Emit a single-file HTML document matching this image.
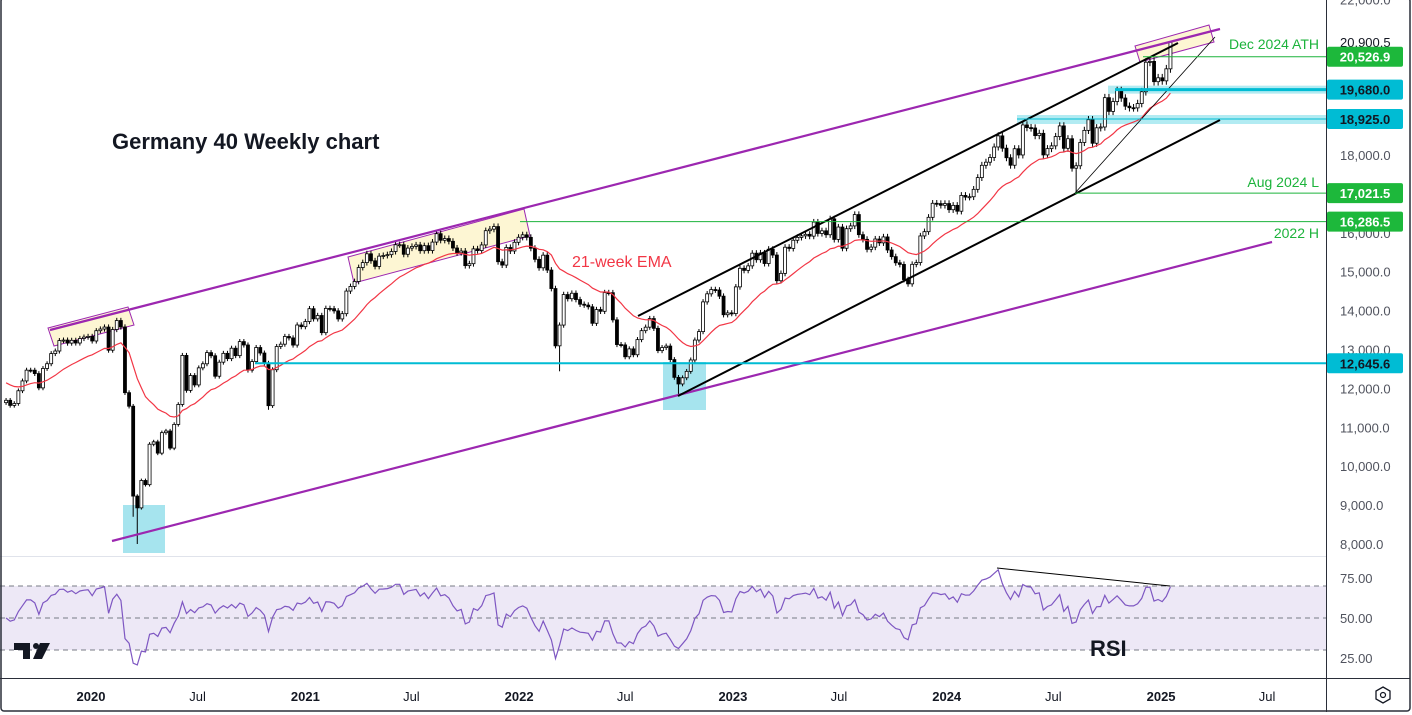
<!DOCTYPE html>
<html><head><meta charset="utf-8"><style>
html,body{margin:0;padding:0;background:#fff;}
svg{display:block;font-family:"Liberation Sans",sans-serif;}
</style></head><body>
<svg id="c" width="1412" height="715" viewBox="0 0 1412 715">
<defs><clipPath id="mainClip"><rect x="0" y="0" width="1326" height="556"/></clipPath>
<clipPath id="rsiClip"><rect x="0" y="557" width="1326" height="121"/></clipPath></defs>
<rect x="0" y="0" width="1412" height="715" fill="#fff"/>
<g id="overBack" clip-path="url(#mainClip)"></g>
<g id="candles" clip-path="url(#mainClip)"></g>
<g id="overFront" clip-path="url(#mainClip)"></g>
<g id="rsi" clip-path="url(#rsiClip)"></g>
<g id="axes"></g>
</svg>
<script>
const closes=[11694,11563,11612,11939,12192,12469,12468,12381,12013,12512,12634,12895,12961,13229,13242,13164,13236,13167,13283,13319,13337,
13219,13483,13526,13577,12982,13514,13745,13579,11890,11542,9232,8929,9633,9525,10565,10626,10336,10862,10905,10465,11074,11587,12848,11949,12331,12089,12528,12633,12920,12839,12313,12674,12901,12765,13033,12842,13203,13116,12469,12689,13051,12909,12646,11556,12480,13077,13137,13335,13298,13114,13630,13587,13719,
14049,13788,13874,13433,14057,14050,13993,13786,13921,14502,14621,14749,15107,15234,15460,15280,15136,15400,15417,15438,15520,15693,15693,15448,15607,15650,15688,15540,15669,15544,15761,15977,15808,15852,15781,15609,15490,15531,15156,15206,15587,15543,15688,16054,16094,16160,15257,15170,15623,15532,15756,15885,
15948,15883,15603,15318,15100,15425,15042,14567,13094,13628,14413,14306,14446,14284,14164,14142,14098,13674,14027,13982,14462,14460,13762,13127,13118,12813,13016,12865,13254,13484,13574,13795,13544,12971,13050,13088,12741,12284,12114,12273,12438,12731,13243,13460,14224,14431,14541,14529,14371,13894,13941,13924,
14610,15087,15034,15150,15476,15308,15482,15210,15578,15428,14768,14957,15629,15598,15808,15882,15922,15961,15914,16275,15983,16051,15950,16358,15830,16148,15603,16105,16177,16469,15952,15832,15575,15632,15840,15741,15894,15558,15387,15229,15187,14798,14688,15189,15234,15919,16029,16398,16759,16751,16707,16752,
16594,16705,16555,16961,16918,16927,17117,17419,17735,17815,17936,18206,18492,18175,17930,17737,18161,18001,18773,18704,18694,18498,18557,18002,18164,18235,18475,18748,18172,18418,17661,17723,18322,18633,18907,18302,18699,18720,19474,19121,19374,19657,19464,19255,19215,19211,19323,19626,20385,20406,19885,19985,
19906,20215,20900.5];
const lowIdx=[31,32,64,135,164,261];
const lowVals=[8700,8000,11450,12440,11830,17021.5];
const highIdx=[279,284];
const highVals=[20526.9,20900.5];
const rsiLevels=[70,50,30];
const priceTicks=[8000,9000,10000,11000,12000,13000,14000,15000,16000,18000,22000];
const timeTicks=[["2020-01-01","2020",1],["2020-07-01","Jul",0],["2021-01-01","2021",1],["2021-07-01","Jul",0],["2022-01-01","2022",1],["2022-07-01","Jul",0],["2023-01-01","2023",1],["2023-07-01","Jul",0],["2024-01-01","2024",1],["2024-07-01","Jul",0],["2025-01-01","2025",1],["2025-07-01","Jul",0]];
const startDate=Date.UTC(2019,7,9);

const NS="http://www.w3.org/2000/svg";
const DAY=86400000, X0=Date.UTC(2020,0,1);
function xd(t){return 91+(t-X0)/DAY*0.5857;}
function xi(i){return xd(startDate+i*7*DAY);}
function y(p){return 544-(p-8000)*0.0389;}
function ry(v){return 618-(v-50)*1.6;}
function mk(tag,at,parent){const e=document.createElementNS(NS,tag);for(const k in at)e.setAttribute(k,at[k]);parent.appendChild(e);return e;}
const G=id=>document.getElementById(id);

// overlays behind
const ob=G('overBack');
let e;
e=mk('polygon',{points:"48,328 128,307 134,325 54,346",fill:"#fdf6d3",stroke:"#9c27b0","stroke-width":1},ob);


e=mk('polygon',{points:"348,257 524,209 530,236 354,283",fill:"#fdf6d3",stroke:"#9c27b0","stroke-width":1},ob);


e=mk('polygon',{points:"1135,46 1209,25 1214,42 1140,62",fill:"#fdf6d3",stroke:"#9c27b0","stroke-width":1},ob);


e=mk('rect',{x:123,y:505,width:42,height:48,fill:"#a6e4ee"},ob);


e=mk('rect',{x:663,y:362,width:43,height:48,fill:"#a6e4ee"},ob);


e=mk('rect',{x:1108,y:y(19680)-4,width:218,height:8,fill:"#b2ebf2"},ob);


e=mk('rect',{x:1017,y:y(18925)-4,width:309,height:9,fill:"#b2ebf2"},ob);



// candles
const cg=G('candles');
closes.forEach((c,i)=>{
  const o=i?closes[i-1]:c-60;
  const top=Math.max(o,c),bot=Math.min(o,c);
  let hi=top*1.005,lo=bot*0.995;
  const li=lowIdx.indexOf(i); if(li>=0) lo=lowVals[li];
  const hI=highIdx.indexOf(i); if(hI>=0) hi=highVals[hI];
  const x=xi(i);
  const g=mk('g',{},cg);
  
  
  mk('line',{x1:x,x2:x,y1:y(hi),y2:y(lo),stroke:"#000","stroke-width":1},g);
  const up=c>=o;
  mk('rect',{x:x-1.5,y:y(top),width:3,height:Math.max(1,y(bot)-y(top)),fill:up?"#fff":"#000",stroke:"#000","stroke-width":0.8},g);
});
// EMA 21
let ema=closes[0]+450,pts=[];
const k=2/22;
closes.forEach((c,i)=>{ema=i?c*k+ema*(1-k):ema;pts.push(xi(i).toFixed(1)+","+y(ema).toFixed(1));});
e=mk('polyline',{points:pts.join(" "),fill:"none",stroke:"#f23645","stroke-width":1.2},cg);



// overlays front
const of=G('overFront');
function ln(x1,y1,x2,y2,col,w,name){const l=mk('line',{x1,y1,x2,y2,stroke:col,"stroke-width":w},of);return l;}
ln(50,330,1220,29,"#9c27b0",2.2,'upper-purple-trendline');
ln(112,541,1272,242,"#9c27b0",2.2,'lower-purple-trendline');
ln(638,316,1178,43,"#000",2,'upper-channel-line');
ln(678,396,1220,120,"#000",2,'lower-channel-line');
ln(1075,193,1215,37,"#000",0.8,'aug-low-trendline');
ln(255,y(12645.6),1326,y(12645.6),"#00bcd4",2,'hline-12645');
ln(1115,y(19680),1326,y(19680),"#00bcd4",3,'hline-19680');
ln(1017,y(18925),1326,y(18925),"#00bcd4",1,'hline-18925');
ln(520,y(16286.5),1326,y(16286.5),"#1cb33b",1,'hline-2022-high');
ln(1075,y(17021.5),1326,y(17021.5),"#1cb33b",1,'hline-aug-2024-low');
ln(1143,y(20526.9),1326,y(20526.9),"#1cb33b",1,'hline-dec-2024-ath');
function tx(x,yy,s,opt,name,parent){const t=mk('text',Object.assign({x,y:yy},opt),parent||of);t.textContent=s;return t;}
tx(112,149,"Germany 40 Weekly chart",{"font-size":22,"font-weight":"bold",fill:"#131722"},'chart-title');
tx(572,267,"21-week EMA",{"font-size":16,fill:"#f23645"},'ema-label');
tx(1319,49,"Dec 2024 ATH",{"font-size":14,fill:"#1cb33b","text-anchor":"end"},'ath-label');
tx(1319,187,"Aug 2024 L",{"font-size":14,fill:"#1cb33b","text-anchor":"end"},'aug-low-label');
tx(1319,238,"2022 H",{"font-size":14,fill:"#1cb33b","text-anchor":"end"},'2022-high-label');

// RSI
const rg=G('rsi');
e=mk('rect',{x:0,y:ry(70),width:1326,height:ry(30)-ry(70),fill:"#ede8f6"},rg);


rsiLevels.forEach(v=>{const l=mk('line',{x1:0,x2:1326,y1:ry(v),y2:ry(v),stroke:"#787b86","stroke-dasharray":"5,4","stroke-width":1},rg);});
let ag=120,al=120,rp=[];
closes.forEach((c,i)=>{if(i){const d=c-closes[i-1];ag=(ag*13+Math.max(d,0))/14;al=(al*13+Math.max(-d,0))/14;}
 const r=100-100/(1+ag/Math.max(al,1e-6));rp.push(xi(i).toFixed(1)+","+ry(r).toFixed(1));});
e=mk('polyline',{points:rp.join(" "),fill:"none",stroke:"#7e57c2","stroke-width":1.2},rg);


e=mk('line',{x1:997,y1:568,x2:1170,y2:586,stroke:"#000","stroke-width":1},rg);


tx(1090,656,"RSI",{"font-size":22,"font-weight":"bold",fill:"#131722"},'rsi-label',rg);

// axes
const ax=G('axes');
mk('line',{x1:0,x2:1326,y1:556.5,y2:556.5,stroke:"#e0e3eb","stroke-width":1},ax);
mk('line',{x1:0,x2:1410,y1:678.5,y2:678.5,stroke:"#2a2e39","stroke-width":1},ax);
mk('line',{x1:1326.5,x2:1326.5,y1:0,y2:712,stroke:"#2a2e39","stroke-width":1},ax);
e=mk('rect',{x:1,y:-2,width:1409,height:713,rx:3,fill:"none",stroke:"#2a2e39","stroke-width":1.5},ax);


priceTicks.forEach(p=>tx(1340,y(p)+5,p.toLocaleString('en-US')+".0",{"font-size":13,fill:"#50535e"},'price-tick',ax));
[["75.00",75],["50.00",50],["25.00",25]].forEach(a=>tx(1340,ry(a[1])+5,a[0],{"font-size":13,fill:"#50535e"},'rsi-tick',ax));
tx(1340,47,"20,900.5",{"font-size":13,fill:"#131722"},'current-price-label',ax);
function badge(p,col,txtCol,name){const yy=y(p);const r=mk('rect',{x:1327,y:yy-10,width:76,height:20,rx:2,fill:col},ax);
 tx(1365,yy+5,p.toLocaleString('en-US',{minimumFractionDigits:1,maximumFractionDigits:1}),{"font-size":13,fill:txtCol,"text-anchor":"middle","font-weight":"bold"},name+'-text',ax);}
badge(20526.9,"#1db83b","#fff",'badge-20526');
badge(19680,"#00bcd4","#131722",'badge-19680');
badge(18925,"#00bcd4","#131722",'badge-18925');
badge(17021.5,"#1db83b","#fff",'badge-17021');
badge(16286.5,"#1db83b","#fff",'badge-16286');
badge(12645.6,"#00bcd4","#131722",'badge-12645');
timeTicks.forEach(t=>{const d=Date.parse(t[0]);tx(xd(d),701,t[1],{"font-size":13,fill:"#131722","text-anchor":"middle","font-weight":t[2]?"bold":"normal"},'time-tick',ax);});
// TV logo
e=mk('g',{},ax);


mk('path',{d:"M14,643 H30 V659 H23 V650 H14 Z",fill:"#131722"},e);
mk('circle',{cx:36,cy:646,r:3,fill:"#131722"},e);
mk('path',{d:"M40,643 H50 L42,659 H33 Z",fill:"#131722"},e);
e=mk('polygon',{points:"1383,687 1390,691 1390,699 1383,703 1376,699 1376,691",fill:"none",stroke:"#131722","stroke-width":1.3},ax);


mk('circle',{cx:1383,cy:695,r:2.5,fill:"none",stroke:"#131722","stroke-width":1.2},ax);
</script>
</body></html>
